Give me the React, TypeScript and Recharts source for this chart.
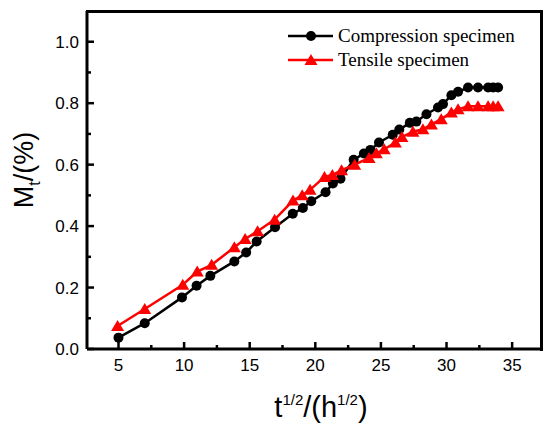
import { Legend, Line, LineChart, XAxis, YAxis } from 'recharts';

// sqrt(t) in h^1/2, Mt in %
const compressionT = [5.0, 7.0, 9.84, 10.95, 12.0, 13.83, 14.73, 15.53, 16.93, 18.28, 19.05, 19.69, 20.78, 21.34, 21.92, 22.92, 23.7, 24.2, 24.85, 25.9, 26.4, 27.2, 27.7, 28.47, 29.35, 29.73, 30.37, 30.88, 31.64, 32.4, 33.17, 33.55, 33.93];
const compressionM = [0.037, 0.084, 0.168, 0.206, 0.238, 0.285, 0.314, 0.35, 0.396, 0.44, 0.459, 0.481, 0.51, 0.539, 0.554, 0.616, 0.636, 0.648, 0.672, 0.697, 0.714, 0.736, 0.74, 0.764, 0.786, 0.797, 0.826, 0.837, 0.851, 0.851, 0.851, 0.851, 0.851];

const tensileT = [4.93, 7.0, 9.9, 11.0, 12.1, 13.83, 14.65, 15.6, 16.9, 18.3, 19.0, 19.6, 20.7, 21.3, 22.0, 23.0, 24.1, 24.65, 25.25, 26.1, 26.6, 27.44, 28.2, 28.85, 29.6, 30.37, 30.88, 31.64, 32.4, 33.17, 33.55, 33.93];
const tensileM = [0.075, 0.13, 0.209, 0.252, 0.274, 0.331, 0.358, 0.383, 0.421, 0.483, 0.5, 0.518, 0.56, 0.566, 0.582, 0.6, 0.622, 0.637, 0.65, 0.672, 0.69, 0.707, 0.715, 0.731, 0.748, 0.77, 0.78, 0.79, 0.79, 0.79, 0.79, 0.79];

const seriesNames = ['Compression specimen', 'Tensile specimen'];
const seriesColors = ['#000000', '#ff0000'];

const xDomain = [2.6, 37.2];
const yDomain = [0, 1.1];
const xTicks = [5, 7.5, 10, 12.5, 15, 17.5, 20, 22.5, 25, 27.5, 30, 32.5, 35];
const yTicks = [0, 0.1, 0.2, 0.3, 0.4, 0.5, 0.6, 0.7, 0.8, 0.9, 1.0];

const compressionData = compressionT.map((t, i) => ({ t, m: compressionM[i] }));
const tensileData = tensileT.map((t, i) => ({ t, m: tensileM[i] }));

const W = 544;
const H = 424;
const margin = { top: 11, right: 3, bottom: 0, left: 0 };
const yAxisWidth = 87;
const xAxisHeight = 75;
const FRAME = 3;

const SANS = 'Arial, "Liberation Sans", sans-serif';
const SERIF = '"Times New Roman", "Liberation Serif", serif';
const frameLine = { stroke: '#000', strokeWidth: FRAME };

// plot box, same as what the margins and axis sizes leave over
const plotLeft = margin.left + yAxisWidth;
const plotTop = margin.top;
const plotWidth = W - margin.left - margin.right - yAxisWidth;
const plotHeight = H - margin.top - margin.bottom - xAxisHeight;

function CircleDot(props: any) {
  const { cx, cy, key } = props;
  if (cx == null || cy == null) return null;
  return <circle key={key} cx={cx} cy={cy} r={5} fill="#000" />;
}

function TriangleDot(props: any) {
  const { cx, cy, key } = props;
  if (cx == null || cy == null) return null;
  return <path key={key} d={`M${cx},${cy - 6} L${cx + 6.5},${cy + 5} L${cx - 6.5},${cy + 5} Z`} fill="#ff0000" />;
}

function XTick({ x, y, payload }: any) {
  const major = payload.value % 5 === 0;
  return (
    <g>
      <line x1={x} x2={x} y1={y} y2={y - (major ? 7 : 4)} stroke="#000" strokeWidth={2.5} />
      {major && (
        <text x={x} y={y + 22} textAnchor="middle" fontSize={17} fontFamily={SANS} fill="#000">
          {payload.value}
        </text>
      )}
    </g>
  );
}

function YTick({ x, y, payload }: any) {
  const major = Math.round(payload.value * 10) % 2 === 0;
  return (
    <g>
      <line x1={x} x2={x + (major ? 7 : 4)} y1={y} y2={y} stroke="#000" strokeWidth={2.5} />
      {major && (
        <text x={x - 8} y={y} dy="0.36em" textAnchor="end" fontSize={17} fontFamily={SANS} fill="#000">
          {payload.value.toFixed(1)}
        </text>
      )}
    </g>
  );
}

function LegendBox() {
  const rows = [0, 1];
  return (
    <svg width={260} height={60} style={{ overflow: 'visible' }}>
      {rows.map((i) => {
        const cy = 12 + i * 24;
        return (
          <g key={i}>
            <line x1={0} x2={45} y1={cy} y2={cy} stroke={seriesColors[i]} strokeWidth={2.5} />
            {i === 0 ? (
              <circle cx={23} cy={cy} r={5} fill="#000" />
            ) : (
              <path d={`M23,${cy - 6} L29.5,${cy + 5} L16.5,${cy + 5} Z`} fill="#ff0000" />
            )}
            <text x={50} y={cy} dy="0.33em" fontSize={19} fontFamily={SERIF} fill="#000">
              {seriesNames[i]}
            </text>
          </g>
        );
      })}
    </svg>
  );
}

function YTitle() {
  return (
    <text transform="translate(33,170) rotate(-90)" textAnchor="middle" fontSize={27} fontFamily={SANS} fill="#000">
      M<tspan fontSize={16} dy={7}>t</tspan>
      <tspan dy={-7}>/(%)</tspan>
    </text>
  );
}

function XTitle() {
  return (
    <text x={321} y={417} textAnchor="middle" fontSize={29} fontFamily={SANS} fill="#000">
      t<tspan fontSize={15} dy={-12}>1/2</tspan>
      <tspan dy={12}>/(h</tspan>
      <tspan fontSize={15} dy={-12}>1/2</tspan>
      <tspan dy={12}>)</tspan>
    </text>
  );
}

export default function App() {
  return (
    <div style={{ position: 'absolute', left: 0, top: 0, width: W, height: H, background: '#fff' }}>
      <LineChart width={W} height={H} margin={margin}>
        <XAxis
          type="number"
          dataKey="t"
          domain={xDomain}
          ticks={xTicks}
          allowDataOverflow
          height={xAxisHeight}
          tickSize={0}
          tickMargin={0}
          tickLine={false}
          axisLine={frameLine}
          tick={<XTick />}
          interval={0}
        />
        <YAxis
          type="number"
          domain={yDomain}
          ticks={yTicks}
          allowDataOverflow
          width={yAxisWidth}
          tickSize={0}
          tickMargin={0}
          tickLine={false}
          axisLine={frameLine}
          tick={<YTick />}
          interval={0}
        />
        <Line
          data={compressionData}
          dataKey="m"
          name={seriesNames[0]}
          stroke={seriesColors[0]}
          strokeWidth={2.5}
          dot={<CircleDot />}
          isAnimationActive={false}
        />
        <Line
          data={tensileData}
          dataKey="m"
          name={seriesNames[1]}
          stroke={seriesColors[1]}
          strokeWidth={2.5}
          dot={<TriangleDot />}
          isAnimationActive={false}
        />
        <Legend
          layout="vertical"
          align="center"
          verticalAlign="middle"
          content={<LegendBox />}
          wrapperStyle={{ position: 'absolute', left: 288, top: 24, width: 260, height: 60 }}
        />
        <YTitle />
        <XTitle />
      </LineChart>
      {/* top and right edges of the box round the plot */}
      <div
        style={{
          position: 'absolute',
          left: plotLeft - FRAME / 2,
          top: plotTop - FRAME / 2,
          width: plotWidth + FRAME,
          height: plotHeight + FRAME,
          boxSizing: 'border-box',
          borderTop: `${FRAME}px solid #000`,
          borderRight: `${FRAME}px solid #000`,
          pointerEvents: 'none',
        }}
      />
    </div>
  );
}
